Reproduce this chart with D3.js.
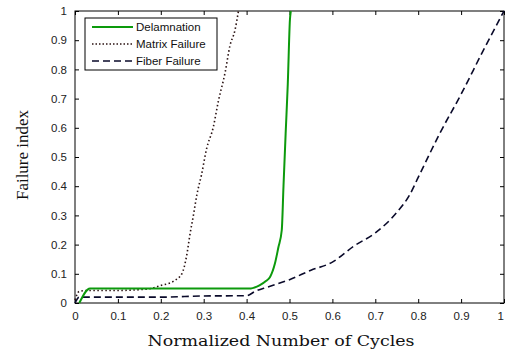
<!DOCTYPE html>
<html>
<head>
<meta charset="utf-8">
<script src="https://cdn.jsdelivr.net/npm/d3@7"></script>
<style>
  body { margin: 0; background: #fff; }
  svg { display: block; }
</style>
</head>
<body>
<div id="chart"></div>
<script>
// Delamination (green solid)
const delamX = [0.01, 0.035, 0.1, 0.2, 0.3, 0.41, 0.43, 0.445, 0.455, 0.466, 0.474, 0.482, 0.486, 0.491, 0.496, 0.501, 0.503];
const delamY = [0.0, 0.05, 0.05, 0.05, 0.05, 0.05, 0.06, 0.075, 0.09, 0.135, 0.19, 0.25, 0.40, 0.58, 0.75, 0.97, 1.0];

// Matrix failure (dotted)
const matrixX = [0.0, 0.01, 0.03, 0.1, 0.17, 0.2, 0.23, 0.249, 0.26, 0.268, 0.276, 0.284, 0.295, 0.307, 0.322, 0.334, 0.35, 0.361, 0.373, 0.381];
const matrixY = [0.01, 0.04, 0.043, 0.043, 0.048, 0.06, 0.075, 0.10, 0.16, 0.235, 0.30, 0.37, 0.44, 0.53, 0.60, 0.69, 0.79, 0.88, 0.935, 1.0];

// Fiber failure (dashed)
const fiberX = [0.0, 0.01, 0.1, 0.2, 0.3, 0.4, 0.42, 0.45, 0.5, 0.55, 0.6, 0.65, 0.7, 0.75, 0.78, 0.8, 0.85, 0.9, 0.95, 1.0];
const fiberY = [0.0, 0.02, 0.02, 0.02, 0.024, 0.025, 0.04, 0.055, 0.08, 0.112, 0.14, 0.195, 0.24, 0.31, 0.37, 0.43, 0.58, 0.715, 0.86, 1.0];

const xTicks = [0, 0.1, 0.2, 0.3, 0.4, 0.5, 0.6, 0.7, 0.8, 0.9, 1];
const yTicks = [0, 0.1, 0.2, 0.3, 0.4, 0.5, 0.6, 0.7, 0.8, 0.9, 1];
const legendLabels = ["Delamnation", "Matrix Failure", "Fiber Failure"];

const W = 505, H = 353;
const margin = {top: 11, right: 1, bottom: 50, left: 75};
const width = W - margin.left - margin.right;
const height = H - margin.top - margin.bottom;

const svg = d3.select("#chart").append("svg")
    .attr("width", W)
    .attr("height", H);

const g = svg.append("g")
    .attr("transform", `translate(${margin.left},${margin.top})`);

const x = d3.scaleLinear().domain([0, 1]).range([0, width]);
const y = d3.scaleLinear().domain([0, 1]).range([height, 0]);

const fmt = d => d === 0 ? "0" : d === 1 ? "1" : d3.format(".1f")(d);

// axes with inward ticks (matlab box style)
function styleAxis(sel) {
    sel.select(".domain").remove();
    sel.selectAll("line").attr("stroke", "#000");
    sel.selectAll("text")
        .attr("fill", "#222")
        .style("font-family", "'Liberation Sans', Arial, sans-serif")
        .style("font-size", "11.5px");
}

const xAxis = g.append("g")
    .attr("transform", `translate(0,${height})`)
    .call(d3.axisBottom(x).tickValues(xTicks).tickFormat(fmt).tickSizeInner(-4).tickSizeOuter(0).tickPadding(9))
    .call(styleAxis);

// last label sits against the right edge
xAxis.selectAll(".tick text")
    .filter(d => d === 1)
    .attr("text-anchor", "end")
    .attr("dx", "-0.5px");

g.append("g")
    .call(d3.axisLeft(y).tickValues(yTicks).tickFormat(fmt).tickSizeInner(-4).tickSizeOuter(0).tickPadding(8))
    .call(styleAxis);

g.append("g")
    .call(d3.axisTop(x).tickValues(xTicks).tickFormat("").tickSizeInner(-4).tickSizeOuter(0))
    .call(styleAxis);

g.append("g")
    .attr("transform", `translate(${width},0)`)
    .call(d3.axisRight(y).tickValues(yTicks).tickFormat("").tickSizeInner(-4).tickSizeOuter(0))
    .call(styleAxis);

g.append("rect")
    .attr("width", width)
    .attr("height", height)
    .attr("fill", "none")
    .attr("stroke", "#000")
    .attr("stroke-width", 1);

// lines
const line = d3.line()
    .x(d => x(d[0]))
    .y(d => y(d[1]))
    .curve(d3.curveMonotoneX);

const fiber = fiberX.map((v, i) => [v, fiberY[i]]);
const matrix = matrixX.map((v, i) => [v, matrixY[i]]);
const delam = delamX.map((v, i) => [v, delamY[i]]);

g.append("path")
    .datum(fiber)
    .attr("d", line)
    .attr("fill", "none")
    .attr("stroke", "#0a0a2a")
    .attr("stroke-width", 1.6)
    .attr("stroke-dasharray", "7,4");

g.append("path")
    .datum(matrix)
    .attr("d", line)
    .attr("fill", "none")
    .attr("stroke", "#2a1212")
    .attr("stroke-width", 1.6)
    .attr("stroke-dasharray", "1.5,2.5");

g.append("path")
    .datum(delam)
    .attr("d", line)
    .attr("fill", "none")
    .attr("stroke", "#0c9a0c")
    .attr("stroke-width", 2);

// legend
const legend = svg.append("g").attr("transform", "translate(85,18)");
legend.append("rect")
    .attr("width", 132)
    .attr("height", 52)
    .attr("fill", "#fff")
    .attr("stroke", "#000")
    .attr("stroke-width", 1);

const legendStyles = [
    {stroke: "#0c9a0c", dash: null, w: 2},
    {stroke: "#2a1212", dash: "1.5,2", w: 1.5},
    {stroke: "#0a0a2a", dash: "7,4", w: 1.6}
];

legendLabels.forEach((lab, i) => {
    const ly = 9 + i * 17;
    legend.append("line")
        .attr("x1", 7).attr("x2", 48)
        .attr("y1", ly).attr("y2", ly)
        .attr("stroke", legendStyles[i].stroke)
        .attr("stroke-width", legendStyles[i].w)
        .attr("stroke-dasharray", legendStyles[i].dash);
    legend.append("text")
        .attr("x", 51)
        .attr("y", ly + 4)
        .attr("fill", "#111")
        .style("font-family", "'Liberation Sans', Arial, sans-serif")
        .style("font-size", "11.5px")
        .text(lab);
});

// axis titles
svg.append("text")
    .attr("x", 281)
    .attr("y", 346)
    .attr("text-anchor", "middle")
    .attr("fill", "#111")
    .style("font-family", "'DejaVu Serif', serif")
    .style("font-size", "15.5px")
    .attr("textLength", 267)
    .attr("lengthAdjust", "spacingAndGlyphs")
    .text("Normalized Number of Cycles");

svg.append("text")
    .attr("transform", "translate(28,155) rotate(-90)")
    .attr("text-anchor", "middle")
    .attr("fill", "#111")
    .style("font-family", "'Liberation Serif', 'Times New Roman', serif")
    .style("font-size", "17px")
    .text("Failure index");
</script>
</body>
</html>
